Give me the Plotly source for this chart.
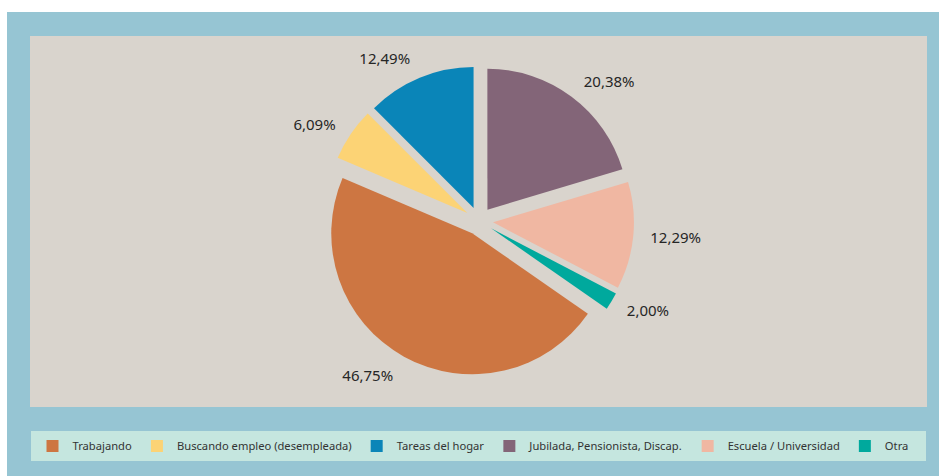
import plotly.graph_objects as go

# data
labels = ['Trabajando', 'Buscando empleo (desempleada)', 'Tareas del hogar',
          'Jubilada, Pensionista, Discap.', 'Escuela / Universidad', 'Otra']
values = [46.75, 6.09, 12.49, 20.38, 12.29, 2.00]
colors = ['#cd7642', '#fcd375', '#0a85b8', '#836578', '#f0b7a2', '#00a99d']

W, H = 939, 476


def px(x):
    return x / W


def py(y):
    return 1 - y / H


fig = go.Figure()

# main pie, every slice pulled out a bit
fig.add_trace(go.Pie(
    labels=labels,
    values=values,
    sort=False,
    direction='clockwise',
    rotation=124.8,
    pull=[0.1] * len(values),
    marker=dict(colors=colors, line=dict(width=0)),
    textinfo='none',
    hoverinfo='label+percent',
    domain=dict(x=[px(179), px(779)], y=[py(376), py(66)]),
))

# invisible, slightly bigger pie that only carries the percentage labels
fig.add_trace(go.Pie(
    labels=labels,
    values=values,
    sort=False,
    direction='clockwise',
    rotation=124.8,
    marker=dict(colors=['rgba(0,0,0,0)'] * len(values), line=dict(width=0)),
    texttemplate='%{percent:.2%}',
    textposition='outside',
    textfont=dict(family='Noto Sans', size=15, color='#262626'),
    hoverinfo='skip',
    showlegend=False,
    domain=dict(x=[px(179), px(779)], y=[py(388), py(54)]),
))

fig.update_layout(
    width=W, height=H,
    margin=dict(l=0, r=0, t=0, b=0, autoexpand=False),
    paper_bgcolor='white',
    plot_bgcolor='white',
    separators=',.',
    showlegend=True,
    legend=dict(
        orientation='h',
        x=px(473), xanchor='center',
        y=py(446), yanchor='middle',
        bgcolor='rgba(0,0,0,0)',
        font=dict(family='Noto Sans', size=11.2, color='#333333'),
        traceorder='normal',
    ),
    shapes=[
        # outer blue frame
        dict(type='rect', xref='paper', yref='paper', layer='below',
             x0=px(7), x1=1, y0=0, y1=py(12),
             fillcolor='#96c5d3', line=dict(width=0)),
        # beige plot panel
        dict(type='rect', xref='paper', yref='paper', layer='below',
             x0=px(30), x1=px(927), y0=py(407), y1=py(36),
             fillcolor='#d9d4cd', line=dict(width=0)),
        # legend strip
        dict(type='rect', xref='paper', yref='paper', layer='below',
             x0=px(31), x1=px(926), y0=py(461), y1=py(431),
             fillcolor='#c5e6df', line=dict(width=0)),
    ],
)

# drop the default page margin so the 939x476 figure fills the window exactly
fig.write_html("out.html", config={'displayModeBar': False},
               post_script="document.body.style.margin='0';")
